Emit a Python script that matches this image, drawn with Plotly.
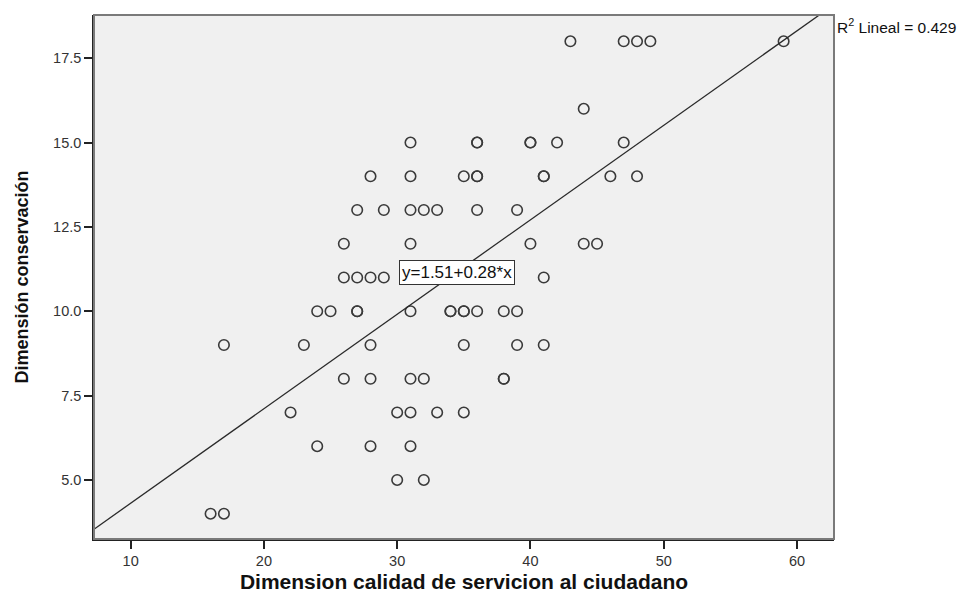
import plotly.graph_objects as go

# Data (x: calidad de servicio, y: conservación)
calidad = [43, 47, 48, 49, 59,
           44,
           31, 36, 36, 40, 40, 42, 47,
           28, 31, 35, 36, 36, 41, 41, 46, 48,
           27, 29, 31, 32, 33, 36, 39,
           26, 31, 40, 44, 45,
           26, 27, 28, 29, 41,
           24, 25, 27, 27, 31, 34, 34, 35, 35, 36, 38, 39,
           17, 23, 28, 35, 39, 41,
           26, 28, 31, 32, 38, 38,
           22, 30, 31, 33, 35,
           24, 28, 31,
           30, 32,
           16, 17]
conservacion = [18] * 5 + [16] + [15] * 7 + [14] * 9 + [13] * 7 + [12] * 5 + [11] * 5 + \
               [10] * 12 + [9] * 6 + [8] * 6 + [7] * 5 + [6] * 3 + [5] * 2 + [4] * 2

intercept = 1.51
slope = 0.28
r2 = 0.429

x_range = [7.25, 62.78]
y_range = [3.25, 18.78]
x_ticks = [10, 20, 30, 40, 50, 60]
y_ticks = [5.0, 7.5, 10.0, 12.5, 15.0, 17.5]
y_tick_text = ["5.0", "7.5", "10.0", "12.5", "15.0", "17.5"]

FONT = "Liberation Sans, Arial, sans-serif"

fig = go.Figure()

fig.add_trace(go.Scatter(
    x=calidad, y=conservacion, mode="markers",
    marker=dict(symbol="circle-open", size=10.5, color="#3a3a3a",
                line=dict(width=1.6, color="#3a3a3a")),
    showlegend=False, hoverinfo="x+y"))

fit_x = x_range
fit_y = [intercept + slope * v for v in fit_x]
fig.add_trace(go.Scatter(
    x=fit_x, y=fit_y, mode="lines",
    line=dict(color="#2a2a2a", width=1.3),
    showlegend=False, hoverinfo="skip"))

# plot frame (grey top/right)
fig.add_shape(type="rect", xref="paper", yref="paper", x0=0, y0=0, x1=1, y1=1,
              line=dict(color="#7a7a7a", width=2), layer="above")

fig.add_annotation(
    x=34.5, y=11.15, xref="x", yref="y",
    text="y=1.51+0.28*x", showarrow=False,
    font=dict(family=FONT, size=17, color="#111"),
    bgcolor="white", bordercolor="#333", borderwidth=1, borderpad=2)

fig.add_annotation(
    x=1.0, y=1 - (26 - 15) / 524, xref="paper", yref="paper",
    text=f"R<sup>2</sup> Lineal = {r2}", showarrow=False,
    xanchor="left", yanchor="middle", xshift=1,
    font=dict(family=FONT, size=15.5, color="#111"))

fig.update_layout(
    width=967, height=593,
    margin=dict(l=94, r=133, t=15, b=54),
    paper_bgcolor="white",
    plot_bgcolor="#f0f0f0",
    font=dict(family=FONT, color="#222"),
    xaxis=dict(
        range=x_range, tickvals=x_ticks, showgrid=False, zeroline=False,
        automargin=False,
        showline=True, linecolor="#222", linewidth=1.5,
        ticks="outside", ticklen=8, tickcolor="#222", tickwidth=1.5,
        tickfont=dict(size=14.5, color="#333"),
        title=dict(text="Dimension calidad de servicion al ciudadano",
                   font=dict(family=FONT, size=21, color="#111", weight="bold"),
                   standoff=16)),
    yaxis=dict(
        range=y_range, tickvals=y_ticks, ticktext=y_tick_text, showgrid=False, zeroline=False,
        automargin=False,
        showline=True, linecolor="#222", linewidth=1.5,
        ticks="outside", ticklen=8, tickcolor="#222", tickwidth=1.5,
        tickfont=dict(size=14.5, color="#333"),
        title=dict(text="Dimensión conservación",
                   font=dict(family="Liberation Sans Narrow, Liberation Sans, Arial, sans-serif",
                             size=18, color="#111", weight="bold"),
                   standoff=20)),
)

fig.write_html("out.html")
